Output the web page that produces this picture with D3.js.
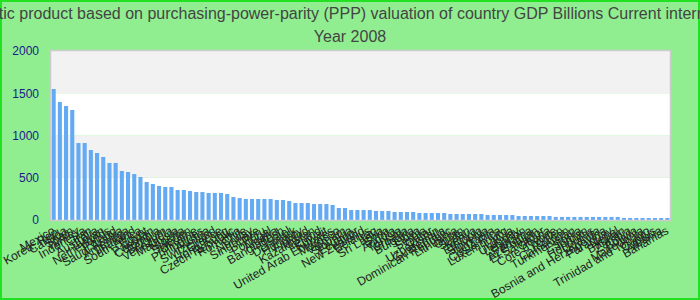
<!DOCTYPE html>
<html><head><meta charset="utf-8">
<script src="https://cdn.jsdelivr.net/npm/d3@7"></script>
<style>body{margin:0;padding:0;background:#90ee90;}svg{display:block;font-family:"Liberation Sans",Arial,sans-serif;}</style>
</head><body>
<svg id="chart" width="700" height="300"></svg>
<script>
const titleLines = ["Gross domestic product based on purchasing-power-parity (PPP) valuation of country GDP Billions Current international dollar", "Year 2008"];
const countries = ["Mexico","Korea, Rep.","Canada","Spain","Turkey","Indonesia","Iran","Australia","Taiwan","Netherlands",
"Poland","Saudi Arabia","Argentina","Thailand","South Africa","Egypt","Pakistan","Colombia","Belgium","Venezuela",
"Malaysia","Nigeria","Sweden","Ukraine","Philippines","Austria","Switzerland","Greece","Hong Kong","Czech Republic",
"Romania","Chile","Norway","Singapore","Peru","Portugal","Algeria","Bangladesh","Israel","Denmark",
"Hungary","Finland","Kazakhstan","Ireland","Kuwait","United Arab Emirates","Morocco","Vietnam","Slovakia","Ecuador",
"New Zealand","Belarus","Iraq","Sri Lanka","Syria","Angola","Tunisia","Croatia","Bulgaria","Libya",
"Serbia","Qatar","Uzbekistan","Guatemala","Dominican Republic","Lithuania","Oman","Sudan","Kenya","Ethiopia",
"Slovenia","Tanzania","Costa Rica","Luxembourg","Latvia","Uruguay","Lebanon","Panama","Azerbaijan","El Salvador",
"Ghana","Cote d'Ivoire","Yemen","Cameroon","Turkmenistan","Estonia","Jordan","Honduras","Uganda","Bosnia and Herzegovina",
"Paraguay","Nepal","Bahrain","Zambia","Bolivia","Macedonia","Trinidad and Tobago","Cyprus","Albania","Bahamas"];
const values = [1550,1396,1349,1302,911,911,828,793,746,675,
675,580,568,544,509,450,426,403,391,391,
355,355,343,331,331,320,320,320,308,272,
260,249,249,249,249,249,237,237,225,201,
201,201,189,189,189,178,142,142,118,118,
118,118,107,107,107,95,95,95,95,83,
83,83,83,83,71,71,71,71,71,71,
59,59,59,59,59,47,47,47,47,47,
47,36,36,36,36,36,36,36,36,36,
36,36,24,24,24,24,24,24,24,24];
const yTicks = [0,500,1000,1500,2000];

const svg = d3.select("#chart");
const W = 700, H = 300;
const m = {left:51, right:30, top:51, bottom:80};
const x0 = m.left, x1 = W - m.right, y0 = H - m.bottom, y1 = m.top;

svg.append("rect").attr("x",1).attr("y",1).attr("width",W-2).attr("height",H-2)
  .attr("fill","#90ee90").attr("stroke","#22e022").attr("stroke-width",2);

const x = d3.scaleBand().domain(countries).range([x0,x1]).paddingInner(0.34).paddingOuter(0.1);
const y = d3.scaleLinear().domain([0,2000]).range([y0,y1]);

// bands
const bands = d3.pairs(yTicks);
svg.append("g").selectAll("rect").data(bands).join("rect")
  .attr("x",x0).attr("width",x1-x0)
  .attr("y",d=>y(d[1])).attr("height",d=>y(d[0])-y(d[1]))
  .attr("fill",(d,i)=> i%2===0 ? "#ffffff" : "#f2f2f2");

// bars
svg.append("g").selectAll("rect").data(values).join("rect")
  .attr("x",(d,i)=>x(countries[i])).attr("width",x.bandwidth())
  .attr("y",d=>y(d)).attr("height",d=>y0-y(d))
  .attr("fill","#64aaf2");

// border
svg.append("rect").attr("x",x0-0.5).attr("y",y1-0.5).attr("width",x1-x0+1).attr("height",y0-y1+1)
  .attr("fill","none").attr("stroke","#cccccc").attr("stroke-width",1.5);

// y axis
const ya = svg.append("g").attr("transform",`translate(${x0},0)`)
  .call(d3.axisLeft(y).tickValues(yTicks).tickSize(0).tickPadding(12).tickFormat(d3.format("d")));
ya.select(".domain").remove();
ya.selectAll("text").attr("fill","#1a1a8a").style("font-size","12px");

// x axis
const xa = svg.append("g").attr("transform",`translate(0,${y0})`)
  .call(d3.axisBottom(x).tickSize(0).tickPadding(0));
xa.select(".domain").remove();
xa.selectAll("text")
  .attr("text-anchor","end").attr("dy","0").attr("y",0)
  .attr("transform","translate(2,13) rotate(-30)")
  .attr("fill","#222").style("font-size","12px");

// title
svg.append("g").selectAll("text").data(titleLines).join("text")
  .attr("x",W/2).attr("y",(d,i)=>19+i*23).attr("text-anchor","middle")
  .attr("fill","#444").style("font-size","16px").text(d=>d);
</script>
</body></html>
